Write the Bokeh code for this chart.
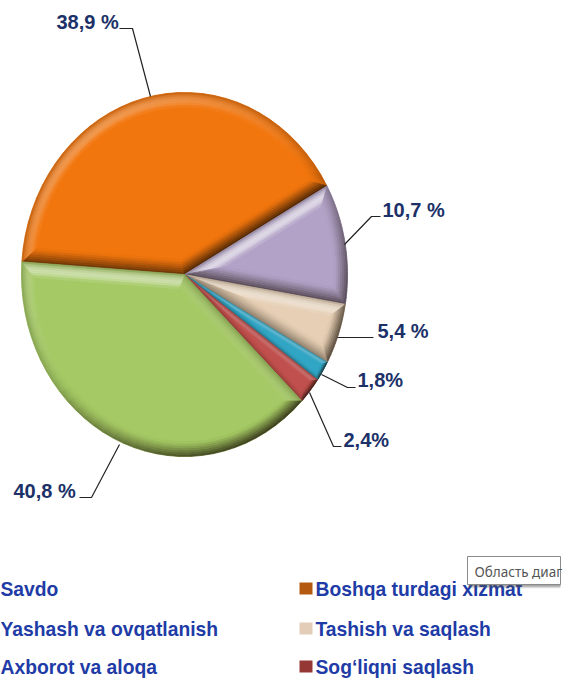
import math
import numpy as np
from bokeh.plotting import figure
from bokeh.models import Range1d
from bokeh.core.properties import value
from bokeh.embed import file_html
from bokeh.resources import INLINE

# --- data ---
slice_names = ["Boshqa turdagi xizmat", "Yashash va ovqatlanish", "Tashish va saqlash",
               "Axborot va aloqa", "Sog'liqni saqlash", "Savdo"]
slice_shares = [40.8, 10.7, 5.4, 1.8, 2.4, 38.9]   # drawn size of each wedge, clockwise
slice_colors = ["#F2760E", "#B3A2C7", "#E6CFB4", "#31A5C4", "#C0504D", "#A5C964"]
value_labels = ["38,9 %", "10,7 %", "5,4 %", "1,8%", "2,4%", "40,8 %"]
legend_left = ["Savdo", "Yashash va ovqatlanish", "Axborot va aloqa"]
legend_right = ["Boshqa turdagi xizmat", "Tashish va saqlash", "Sog\u2018liqni saqlash"]
legend_right_colors = ["#B35A10", "#E3CDB8", "#953735"]
tooltip_text = "Область диаг"

# --- layout ---
W, H = 572, 680
CX, CY, RX, RY = 185, 275, 163, 182
R = 172.0
START_DEG = 176.0
NAVY = "#1B3168"
BLUE = "#1E3BA6"

p = figure(width=W, height=H, x_range=Range1d(1, W + 1), y_range=Range1d(H + 1, 1),
           output_backend="svg", toolbar_location=None, min_border=0)
p.axis.visible = False
p.grid.visible = False
p.outline_line_color = None
p.background_fill_color = "white"


def to_px(pts):
    pts = np.asarray(pts)
    return CX + pts[:, 0] * RX / R, CY - pts[:, 1] * RY / R


def outline(a1, a2, w, n=36):
    half = (a1 - a2) / 2
    mid = (a1 + a2) / 2
    if w <= 0:
        apex = (0.0, 0.0)
        th = np.linspace(a1, a2, n)
        rho = R
    else:
        d = w / math.sin(half)
        apex = (d * math.cos(mid), d * math.sin(mid))
        rho = R - w
        delta = math.asin(w / rho)
        th = np.linspace(a1 - delta, a2 + delta, n)
    return [apex] + [(rho * math.cos(t), rho * math.sin(t)) for t in th]


def mix(c, target, f):
    return tuple(c[i] + (target[i] - c[i]) * f for i in range(3))


def shade(rgb, light, t, strength):
    rim = 0.2 * (1 - t) ** 2
    c = mix(rgb, (0, 0, 0), rim)
    if light > 0:
        c = mix(c, (255, 255, 255), strength * light * math.sin(math.pi * t ** 1.1))
    else:
        c = mix(c, (25, 15, 5), 0.72 * (-light) * (1 - t) ** 1.1)
    return "#%02x%02x%02x" % tuple(int(round(v)) for v in c)


LX, LY = -0.6, 0.8
RINGS = 7
BEVEL = 14.0

qx, qy, qc = [], [], []
base_x, base_y, base_c = [], [], []
angle = math.radians(START_DEG)
total = sum(slice_shares)
for share, col in zip(slice_shares, slice_colors):
    sweep = 2 * math.pi * share / total
    a1, a2 = angle, angle - sweep
    angle = a2
    rgb = tuple(int(col[i:i + 2], 16) for i in (1, 3, 5))
    half = sweep / 2
    bw = min(BEVEL, R * math.sin(half) * 0.45)
    bx, by = to_px(outline(a1, a2, 0))
    base_x.append(list(bx)); base_y.append(list(by)); base_c.append(col)
    for k in range(RINGS):
        w0, w1 = bw * k / RINGS, bw * (k + 1) / RINGS
        t = (k + 0.5) / RINGS
        o = outline(a1, a2, w0)
        i = outline(a1, a2, w1)
        m = len(o)
        for s in range(m):
            e = (s + 1) % m
            if s == 0:
                na, strength = a1 + math.pi / 2, 0.62
            elif s == m - 1:
                na, strength = a2 - math.pi / 2, 0.62
            else:
                na, strength = a1 + (a2 - a1) * (s - 0.5) / (m - 2), 0.28
            light = math.cos(na) * LX + math.sin(na) * LY
            xs, ys = to_px([o[s], o[e], i[e], i[s]])
            c = shade(rgb, light, t, strength)
            qx.append(list(xs)); qy.append(list(ys)); qc.append(c)

p.patches(base_x, base_y, fill_color=base_c, line_color=base_c, line_width=0.5)
p.patches(qx, qy, fill_color=qc, line_color=qc, line_width=0.6)

# leader lines and value labels (order follows the slices)
leaders = [
    ([120, 133, 151], [29, 29, 97]),
    ([381, 372, 345], [217, 217, 245]),
    ([374, 338], [338, 338]),
    ([356, 348, 322], [388, 388, 375]),
    ([342, 334, 310], [447, 447, 393]),
    ([80, 92, 120], [498, 498, 445]),
]
label_x = [57, 383, 378, 358, 344, 14]
label_y = [22, 210, 331, 380, 440, 491]
for lx, ly in leaders:
    p.line(lx, ly, line_color="#222222", line_width=1.2)
p.text(label_x, label_y, text=value_labels, text_color=NAVY,
       text_font=value("Liberation Sans"), text_font_style="bold",
       text_font_size="20px", text_align="left", text_baseline="middle")

# legend
rows = [590, 630, 668]
p.text([1] * 3, rows, text=legend_left, text_color=BLUE,
       text_font=value("Liberation Sans"), text_font_style="bold",
       text_font_size="19.3px", text_align="left", text_baseline="middle")
p.text([316] * 3, rows, text=legend_right, text_color=BLUE,
       text_font=value("Liberation Sans"), text_font_style="bold",
       text_font_size="19.3px", text_align="left", text_baseline="middle")
p.rect([306.5] * 3, [r - 1 for r in rows], width=13, height=12,
       fill_color=legend_right_colors, line_color=None)

# tooltip box over the legend
for off, alpha in [(3, 0.12), (2, 0.2), (1, 0.3)]:
    p.quad(left=[469], right=[561], top=[557 + off], bottom=[586 + off],
           fill_color="#555555", fill_alpha=alpha, line_color=None)
p.quad(left=[468], right=[561], top=[557], bottom=[585],
       fill_color="white", line_color="#8a8a8a", line_width=1)
p.text([475], [572], text=[tooltip_text], text_color="#555555",
       text_font=value("Noto Sans"), text_font_size="13.5px",
       text_align="left", text_baseline="middle")

open("out.html", "w").write(file_html(p, INLINE))
